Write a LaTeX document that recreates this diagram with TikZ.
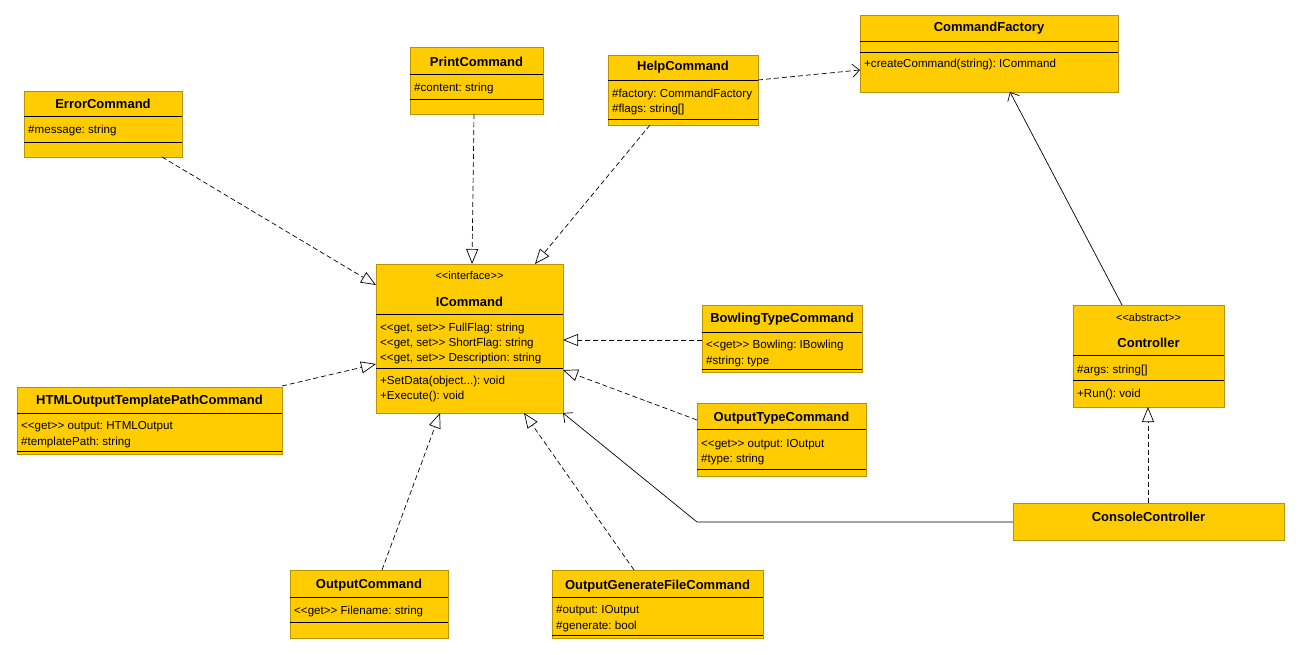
\documentclass[tikz,border=0pt]{standalone}
\usepackage{fontspec}
\setmainfont{Liberation Sans}
\usetikzlibrary{arrows.meta}
\definecolor{clsfill}{HTML}{FFCC00}
\definecolor{clsedge}{HTML}{B89200}
\frenchspacing
\begin{document}
\begin{tikzpicture}[x=1pt,y=-1pt,
  cls/.style={draw=clsedge, fill=clsfill, line width=0.9pt, inner sep=0pt, outer sep=0pt, anchor=north west},
  sep/.style={line width=0.9pt, black},
  ttl/.style={font=\fontsize{13}{15}\selectfont\bfseries, inner sep=0pt},
  stereo/.style={font=\fontsize{11}{13}\selectfont, inner sep=0pt},
  mem/.style={font=\fontsize{11.6}{13}\selectfont, inner sep=0pt, anchor=west, yshift=-1.2pt},
  realize/.style={line width=0.7pt, dash pattern=on 5pt off 3pt, -{Triangle[open, length=15pt, width=12pt, line width=0.7pt]}},
  extends/.style={line width=0.7pt, -{Straight Barb[length=7pt, width=13pt, line width=0.7pt]}},
  depends/.style={line width=0.7pt, dash pattern=on 5pt off 3pt, -{Straight Barb[length=7pt, width=13pt, line width=0.7pt]}}
]
\useasboundingbox[fill=white] (0,0) rectangle (1300,655);

% ---------- class boxes ----------
% ErrorCommand
\node[cls, minimum width=158pt, minimum height=66pt] (err) at (24,91) {};
\draw[sep] (err.west |- 0,116) -- (err.east |- 0,116);
\draw[sep] (err.west |- 0,142) -- (err.east |- 0,142);
\node[ttl] (errT) at (103,104) {ErrorCommand};
\node[mem] (errA) at (28,129) {\#message: string};

% PrintCommand
\node[cls, minimum width=133pt, minimum height=67pt] (prt) at (410,47) {};
\draw[sep] (prt.west |- 0,74) -- (prt.east |- 0,74);
\draw[sep] (prt.west |- 0,99) -- (prt.east |- 0,99);
\node[ttl] (prtT) at (476.5,62) {PrintCommand};
\node[mem] (prtA) at (414,87) {\#content: string};

% HelpCommand
\node[cls, minimum width=150pt, minimum height=70pt] (hlp) at (608,55) {};
\draw[sep] (hlp.west |- 0,80) -- (hlp.east |- 0,80);
\draw[sep] (hlp.west |- 0,119) -- (hlp.east |- 0,119);
\node[ttl] (hlpT) at (683,67) {HelpCommand};
\node[mem] (hlpA) at (612,93) {\#factory: CommandFactory};
\node[mem] (hlpB) at (612,108) {\#flags: string[]};

% CommandFactory
\node[cls, minimum width=258pt, minimum height=77pt] (fac) at (860,15) {};
\draw[sep] (fac.west |- 0,41) -- (fac.east |- 0,41);
\draw[sep] (fac.west |- 0,52) -- (fac.east |- 0,52);
\node[ttl] (facT) at (989,28) {CommandFactory};
\node[mem] (facO) at (864,63) {+createCommand(string): ICommand};

% ICommand
\node[cls, minimum width=187pt, minimum height=149pt] (icmd) at (376,264) {};
\draw[sep] (icmd.west |- 0,314) -- (icmd.east |- 0,314);
\draw[sep] (icmd.west |- 0,368) -- (icmd.east |- 0,368);
\node[stereo] (icmdS) at (469.5,276) {<{}<interface>{}>};
\node[ttl] (icmdT) at (469.5,302) {ICommand};
\node[mem] (icmdA) at (380,327) {<{}<get, set>{}> FullFlag: string};
\node[mem] (icmdB) at (380,342) {<{}<get, set>{}> ShortFlag: string};
\node[mem] (icmdC) at (380,357) {<{}<get, set>{}> Description: string};
\node[mem] (icmdD) at (380,380) {+SetData(object...): void};
\node[mem] (icmdE) at (380,395) {+Execute(): void};

% Controller
\node[cls, minimum width=151pt, minimum height=102pt] (ctl) at (1073,305) {};
\draw[sep] (ctl.west |- 0,355) -- (ctl.east |- 0,355);
\draw[sep] (ctl.west |- 0,380) -- (ctl.east |- 0,380);
\node[stereo] (ctlS) at (1148.5,318) {<{}<abstract>{}>};
\node[ttl] (ctlT) at (1148.5,343) {Controller};
\node[mem] (ctlA) at (1077,369) {\#args: string[]};
\node[mem] (ctlO) at (1077,393) {+Run(): void};

% ConsoleController
\node[cls, minimum width=271pt, minimum height=37pt] (con) at (1013,503) {};
\node[ttl] (conT) at (1148.5,517) {ConsoleController};

% HTMLOutputTemplatePathCommand
\node[cls, minimum width=265pt, minimum height=67pt] (html) at (17,387) {};
\draw[sep] (html.west |- 0,413) -- (html.east |- 0,413);
\draw[sep] (html.west |- 0,451) -- (html.east |- 0,451);
\node[ttl] (htmlT) at (149.5,401) {HTMLOutputTemplatePathCommand};
\node[mem] (htmlA) at (21,425) {<{}<get>{}> output: HTMLOutput};
\node[mem] (htmlB) at (21,441) {\#templatePath: string};

% BowlingTypeCommand
\node[cls, minimum width=160pt, minimum height=67pt] (bowl) at (702,305) {};
\draw[sep] (bowl.west |- 0,332) -- (bowl.east |- 0,332);
\draw[sep] (bowl.west |- 0,369.5) -- (bowl.east |- 0,369.5);
\node[ttl] (bowlT) at (782,319) {BowlingTypeCommand};
\node[mem] (bowlA) at (706,344) {<{}<get>{}> Bowling: IBowling};
\node[mem] (bowlB) at (706,360) {\#string: type};

% OutputTypeCommand
\node[cls, minimum width=169pt, minimum height=73pt] (otype) at (697,403) {};
\draw[sep] (otype.west |- 0,429) -- (otype.east |- 0,429);
\draw[sep] (otype.west |- 0,469) -- (otype.east |- 0,469);
\node[ttl] (otypeT) at (781.5,418) {OutputTypeCommand};
\node[mem] (otypeA) at (701,443) {<{}<get>{}> output: IOutput};
\node[mem] (otypeB) at (701,458) {\#type: string};

% OutputCommand
\node[cls, minimum width=158pt, minimum height=68pt] (ocmd) at (290,570) {};
\draw[sep] (ocmd.west |- 0,597) -- (ocmd.east |- 0,597);
\draw[sep] (ocmd.west |- 0,622) -- (ocmd.east |- 0,622);
\node[ttl] (ocmdT) at (369,585) {OutputCommand};
\node[mem] (ocmdA) at (294,610) {<{}<get>{}> Filename: string};

% OutputGenerateFileCommand
\node[cls, minimum width=211pt, minimum height=68pt] (ogen) at (552,570) {};
\draw[sep] (ogen.west |- 0,597) -- (ogen.east |- 0,597);
\draw[sep] (ogen.west |- 0,635.5) -- (ogen.east |- 0,635.5);
\node[ttl] (ogenT) at (657.5,586) {OutputGenerateFileCommand};
\node[mem] (ogenA) at (556,609) {\#output: IOutput};
\node[mem] (ogenB) at (556,625) {\#generate: bool};

% ---------- relations ----------
\draw[realize] (err.south -| 162,0) -- (icmd.west |- 0,285);
\draw[realize] (prt.south -| 474,0) -- (icmd.north -| 472,0);
\draw[realize] (hlp.south -| 650,0) -- (icmd.north -| 535,0);
\draw[realize] (html.east |- 0,386) -- (icmd.west |- 0,364);
\draw[realize] (bowl.west |- 0,340) -- (icmd.east |- 0,340);
\draw[realize] (otype.west |- 0,420) -- (icmd.east |- 0,370);
\draw[realize] (ocmd.north -| 382,0) -- (icmd.south -| 440,0);
\draw[realize] (ogen.north -| 634,0) -- (icmd.south -| 524,0);
\draw[realize] (con.north -| 1148,0) -- (ctl.south -| 1148,0);
\draw[depends] (hlp.east |- 0,80) -- (fac.west |- 0,70);
\draw[extends] (ctl.north -| 1122,0) -- (fac.south -| 1010,0);
\draw[extends] (con.west |- 0,522) -- (697,522) -- (icmd.south east);
\end{tikzpicture}
\end{document}
